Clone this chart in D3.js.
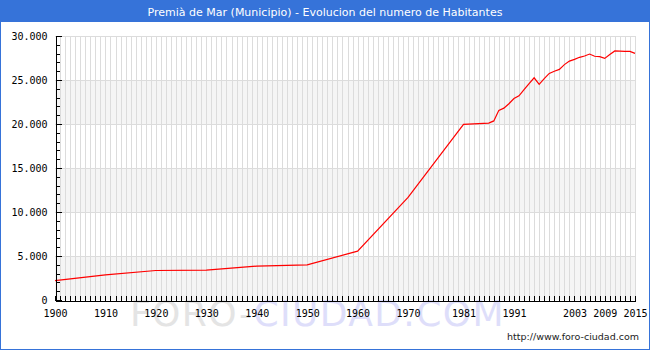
<!DOCTYPE html>
<html>
<head>
<meta charset="utf-8">
<script src="https://cdn.jsdelivr.net/npm/d3@7"></script>
<style>
  html, body { margin: 0; padding: 0; background: #ffffff; }
  svg { display: block; }
</style>
</head>
<body>
<svg id="chart" width="650" height="350"></svg>
<script>
const title = "Premià de Mar (Municipio) - Evolucion del numero de Habitantes";
const years = [1900, 1910, 1920, 1930, 1940, 1950, 1960, 1970, 1981, 1986, 1987, 1988, 1989, 1990, 1991, 1992, 1993, 1994, 1995, 1996, 1997, 1998, 1999, 2000, 2001, 2002, 2003, 2004, 2005, 2006, 2007, 2008, 2009, 2010, 2011, 2012, 2013, 2014, 2015];
const population = [2200, 2850, 3350, 3400, 3850, 4000, 5550, 11650, 19950, 20100, 20350, 21550, 21800, 22300, 22900, 23200, 23900, 24600, 25250, 24500, 25150, 25750, 26000, 26200, 26750, 27150, 27350, 27580, 27730, 27950, 27700, 27650, 27450, 27900, 28300, 28280, 28260, 28250, 28030];
const xTickLabels = [1900, 1910, 1920, 1930, 1940, 1950, 1960, 1970, 1981, 1991, 2003, 2009, 2015];
const yTicks = [0, 5000, 10000, 15000, 20000, 25000, 30000];

const svg = d3.select("#chart");
const W = 650, H = 350;
const blue = "#3673d9";

const x = d3.scaleLinear().domain([1900, 2015]).range([55, 635]);
const y = d3.scaleLinear().domain([0, 30000]).range([300, 36]);

const fmt = d3.formatLocale({decimal: ",", thousands: ".", grouping: [3], currency: ["", ""]}).format(",");

// background
svg.append("rect").attr("x", 0).attr("y", 0).attr("width", W).attr("height", H).attr("fill", "#ffffff");

// bands
const bandStarts = [0, 10000, 20000];
svg.append("g").selectAll("rect").data(bandStarts).join("rect")
  .attr("x", x(1900)).attr("width", x(2015) - x(1900))
  .attr("y", d => y(d + 5000)).attr("height", d => y(d) - y(d + 5000))
  .attr("fill", "#f5f5f5");

// vertical grid, every year
const allYears = d3.range(1900, 2016);
svg.append("g").attr("shape-rendering", "crispEdges").selectAll("line").data(allYears.slice(1)).join("line")
  .attr("x1", d => Math.round(x(d)) + 0.5).attr("x2", d => Math.round(x(d)) + 0.5)
  .attr("y1", y(30000)).attr("y2", y(0))
  .attr("stroke", "#dcdcdc").attr("stroke-width", 1);

// horizontal grid
svg.append("g").attr("shape-rendering", "crispEdges").selectAll("line").data(yTicks.slice(1)).join("line")
  .attr("x1", x(1900)).attr("x2", x(2015))
  .attr("y1", d => Math.round(y(d)) + 0.5).attr("y2", d => Math.round(y(d)) + 0.5)
  .attr("stroke", "#dcdcdc").attr("stroke-width", 1);

// watermark
const wm = svg.append("text")
  .attr("x", 130).attr("y", 326)
  .attr("font-family", "DejaVu Sans, sans-serif").attr("font-size", 36)
  .attr("letter-spacing", 1.4);
wm.append("tspan").attr("fill", "#e4e4e4").text("FORO-");
wm.append("tspan").attr("fill", "#dedefa").text("CIUDAD.COM");

// line
const line = d3.line().x((d, i) => x(years[i])).y(d => y(d));
svg.append("path").datum(population)
  .attr("d", line)
  .attr("fill", "none").attr("stroke", "#ff0000").attr("stroke-width", 1.2);

// x axis
const xAxis = d3.axisBottom(x)
  .tickValues(allYears)
  .tickSize(-5).tickSizeOuter(0).tickPadding(9)
  .tickFormat(d => xTickLabels.includes(d) ? String(d) : "");
const gx = svg.append("g").attr("transform", "translate(0,300.5)").call(xAxis);
gx.selectAll("text").attr("font-family", "DejaVu Sans Mono, monospace").attr("font-size", 10).attr("fill", "#000");
gx.selectAll("line").attr("stroke", "#000");
gx.select(".domain").attr("stroke", "#000");
gx.attr("shape-rendering", "crispEdges");

// y axis minor ticks
const yMinor = d3.axisLeft(y).tickValues(d3.range(0, 30001, 1000)).tickSize(-4).tickSizeOuter(0).tickFormat("");
const gyMinor = svg.append("g").attr("transform", "translate(55.5,0)").call(yMinor).attr("shape-rendering", "crispEdges");
gyMinor.selectAll("line").attr("stroke", "#000");
gyMinor.select(".domain").attr("stroke", "#000");

// y axis major
const yAxis = d3.axisLeft(y).tickValues(yTicks).tickSize(-6).tickSizeOuter(0).tickPadding(8).tickFormat(d => fmt(d));
const gy = svg.append("g").attr("transform", "translate(55.5,0)").call(yAxis).attr("shape-rendering", "crispEdges");
gy.selectAll("line").attr("stroke", "#000");
gy.select(".domain").attr("stroke", "#000");
gy.selectAll("text").attr("font-family", "DejaVu Sans Mono, monospace").attr("font-size", 10).attr("fill", "#000");

// title bar
svg.append("rect").attr("x", 0).attr("y", 0).attr("width", W).attr("height", 22).attr("fill", blue);
svg.append("text").attr("x", W / 2).attr("y", 16).attr("text-anchor", "middle")
  .attr("font-family", "DejaVu Sans, sans-serif").attr("font-size", 11).attr("fill", "#ffffff")
  .text(title);

// url
svg.append("text").attr("x", 639).attr("y", 340).attr("text-anchor", "end")
  .attr("font-family", "DejaVu Sans, sans-serif").attr("font-size", 9.5).attr("fill", "#222")
  .text("http://www.foro-ciudad.com");

// border
svg.append("rect").attr("x", 0.5).attr("y", 0.5).attr("width", W - 1).attr("height", H - 1)
  .attr("fill", "none").attr("stroke", blue).attr("stroke-width", 1).attr("shape-rendering", "crispEdges");
</script>
</body>
</html>
